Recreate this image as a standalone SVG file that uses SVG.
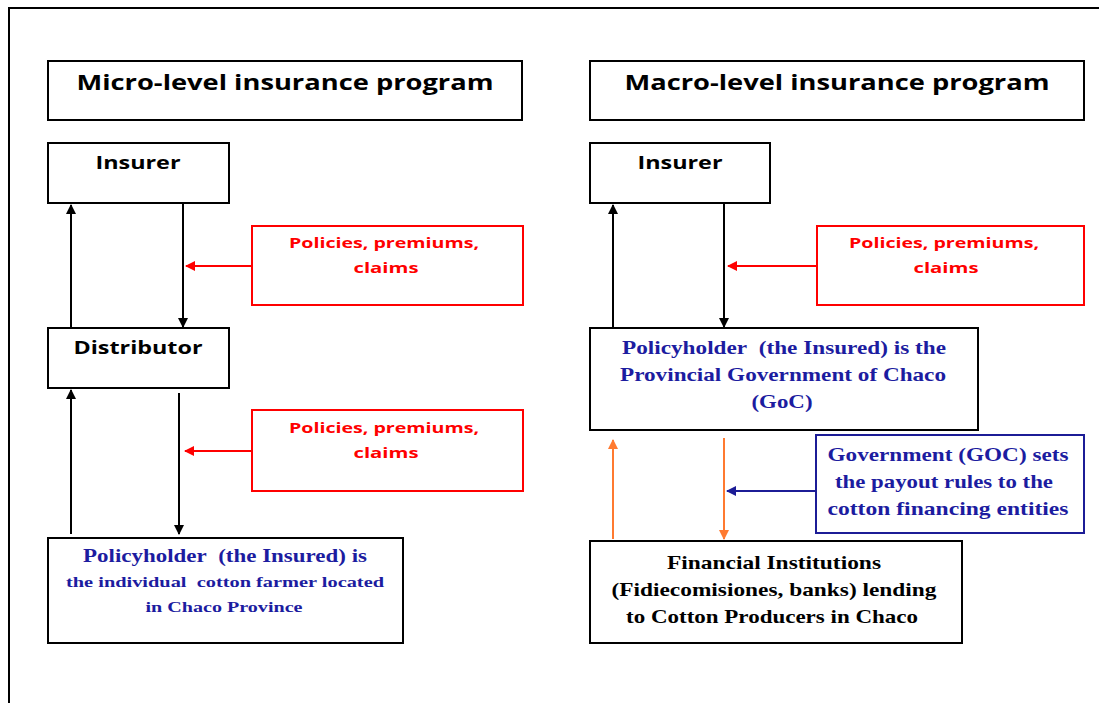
<svg xmlns="http://www.w3.org/2000/svg" width="1099" height="703" viewBox="0 0 1099 703">
<defs>
<style>
.box{fill:#fff;stroke:#000;stroke-width:2}
.rbox{fill:#fff;stroke:#ff0000;stroke-width:2}
.bbox{fill:#fff;stroke:#1c1c96;stroke-width:2}
.h{font-family:"Open Sans","Liberation Sans",sans-serif;font-weight:bold;fill:#000;text-anchor:middle}
.r{font-family:"Open Sans","Liberation Sans",sans-serif;font-weight:bold;fill:#ff0000;text-anchor:middle;font-size:15px}
.s{font-family:"Liberation Serif",serif;font-weight:bold;text-anchor:middle}
.blue{fill:#1c1ca0}
.blk{fill:#000}
.k{stroke:#000;stroke-width:2;fill:none}
.rl{stroke:#ff0000;stroke-width:2;fill:none}
.o{stroke:#ff7a30;stroke-width:2;fill:none}
.bl{stroke:#1c1c96;stroke-width:2;fill:none}
</style>
<marker id="ak" viewBox="0 0 10 10" refX="9" refY="5" markerWidth="5" markerHeight="5" orient="auto"><path d="M0,0L10,5L0,10z" fill="#000"/></marker>
<marker id="ar" viewBox="0 0 10 10" refX="9" refY="5" markerWidth="5" markerHeight="5" orient="auto"><path d="M0,0L10,5L0,10z" fill="#ff0000"/></marker>
<marker id="ao" viewBox="0 0 10 10" refX="9" refY="5" markerWidth="5" markerHeight="5" orient="auto"><path d="M0,0L10,5L0,10z" fill="#ff7a30"/></marker>
<marker id="ab" viewBox="0 0 10 10" refX="9" refY="5" markerWidth="5" markerHeight="5" orient="auto"><path d="M0,0L10,5L0,10z" fill="#1c1c96"/></marker>
</defs>
<rect x="0" y="0" width="1099" height="703" fill="#fff"/>
<rect x="9" y="8" width="1110" height="710" fill="none" stroke="#000" stroke-width="2"/>

<g id="connectors">
<line class="k" x1="71" y1="327" x2="71" y2="205" marker-end="url(#ak)"/>
<line class="k" x1="183" y1="204" x2="183" y2="327" marker-end="url(#ak)"/>
<line class="rl" x1="252" y1="266" x2="186" y2="266" marker-end="url(#ar)"/>
<line class="k" x1="71" y1="534" x2="71" y2="390" marker-end="url(#ak)"/>
<line class="k" x1="179" y1="393" x2="179" y2="534" marker-end="url(#ak)"/>
<line class="rl" x1="252" y1="451" x2="185" y2="451" marker-end="url(#ar)"/>
<line class="k" x1="613" y1="327" x2="613" y2="205" marker-end="url(#ak)"/>
<line class="k" x1="724" y1="204" x2="724" y2="327" marker-end="url(#ak)"/>
<line class="rl" x1="817" y1="266" x2="728" y2="266" marker-end="url(#ar)"/>
<line class="o" x1="613" y1="539" x2="613" y2="440" marker-end="url(#ao)"/>
<line class="o" x1="724" y1="438" x2="724" y2="539" marker-end="url(#ao)"/>
<line class="bl" x1="816" y1="491" x2="727" y2="491" marker-end="url(#ab)"/>
</g>

<g id="title-micro">
<rect class="box" x="48" y="61" width="474" height="59"/>
<text class="h" x="285" y="90" font-size="21" textLength="417" lengthAdjust="spacingAndGlyphs">Micro-level insurance program</text>
</g>
<g id="title-macro">
<rect class="box" x="590" y="61" width="494" height="59"/>
<text class="h" x="837" y="90" font-size="21" textLength="425" lengthAdjust="spacingAndGlyphs">Macro-level insurance program</text>
</g>

<g id="insurer-left">
<rect class="box" x="48" y="143" width="181" height="60"/>
<text class="h" x="138" y="169" font-size="18" textLength="85" lengthAdjust="spacingAndGlyphs">Insurer</text>
</g>
<g id="red-left-1">
<rect class="rbox" x="252" y="226" width="271" height="79"/>
<text class="r" x="384" y="248" textLength="190" lengthAdjust="spacingAndGlyphs">Policies, premiums,</text>
<text class="r" x="386" y="273" textLength="65" lengthAdjust="spacingAndGlyphs">claims</text>
</g>
<g id="distributor">
<rect class="box" x="48" y="328" width="181" height="60"/>
<text class="h" x="138" y="354" font-size="18" textLength="129" lengthAdjust="spacingAndGlyphs">Distributor</text>
</g>
<g id="red-left-2">
<rect class="rbox" x="252" y="410" width="271" height="81"/>
<text class="r" x="384" y="433" textLength="190" lengthAdjust="spacingAndGlyphs">Policies, premiums,</text>
<text class="r" x="386" y="458" textLength="65" lengthAdjust="spacingAndGlyphs">claims</text>
</g>
<g id="policyholder-left">
<rect class="box" x="48" y="538" width="355" height="105"/>
<text class="s blue" x="225" y="562" font-size="18" textLength="284" lengthAdjust="spacingAndGlyphs">Policyholder&#160; (the Insured) is</text>
<text class="s blue" x="225" y="587" font-size="15" textLength="318" lengthAdjust="spacingAndGlyphs">the individual&#160; cotton farmer located</text>
<text class="s blue" x="224" y="612" font-size="15" textLength="157" lengthAdjust="spacingAndGlyphs">in Chaco Province</text>
</g>

<g id="insurer-right">
<rect class="box" x="590" y="143" width="180" height="60"/>
<text class="h" x="680" y="169" font-size="18" textLength="85" lengthAdjust="spacingAndGlyphs">Insurer</text>
</g>
<g id="red-right">
<rect class="rbox" x="817" y="226" width="267" height="79"/>
<text class="r" x="944" y="248" textLength="190" lengthAdjust="spacingAndGlyphs">Policies, premiums,</text>
<text class="r" x="946" y="273" textLength="65" lengthAdjust="spacingAndGlyphs">claims</text>
</g>
<g id="policyholder-goc">
<rect class="box" x="590" y="328" width="388" height="102"/>
<text class="s blue" x="784" y="354" font-size="19" textLength="324" lengthAdjust="spacingAndGlyphs">Policyholder&#160; (the Insured) is the</text>
<text class="s blue" x="783" y="381" font-size="19" textLength="326" lengthAdjust="spacingAndGlyphs">Provincial Government of Chaco</text>
<text class="s blue" x="782" y="408" font-size="19" textLength="61" lengthAdjust="spacingAndGlyphs">(GoC)</text>
</g>
<g id="goc-rules">
<rect class="bbox" x="816" y="435" width="268" height="98"/>
<text class="s blue" x="948" y="461" font-size="19" textLength="241" lengthAdjust="spacingAndGlyphs">Government (GOC) sets</text>
<text class="s blue" x="944" y="488" font-size="19" textLength="218" lengthAdjust="spacingAndGlyphs">the payout rules to the</text>
<text class="s blue" x="948" y="515" font-size="19" textLength="241" lengthAdjust="spacingAndGlyphs">cotton financing entities</text>
</g>
<g id="financial-institutions">
<rect class="box" x="590" y="541" width="372" height="102"/>
<text class="s blk" x="774" y="569" font-size="19" textLength="214" lengthAdjust="spacingAndGlyphs">Financial Institutions</text>
<text class="s blk" x="774" y="596" font-size="19" textLength="325" lengthAdjust="spacingAndGlyphs">(Fidiecomisiones, banks) lending</text>
<text class="s blk" x="772" y="623" font-size="19" textLength="292" lengthAdjust="spacingAndGlyphs">to Cotton Producers in Chaco</text>
</g>
</svg>
